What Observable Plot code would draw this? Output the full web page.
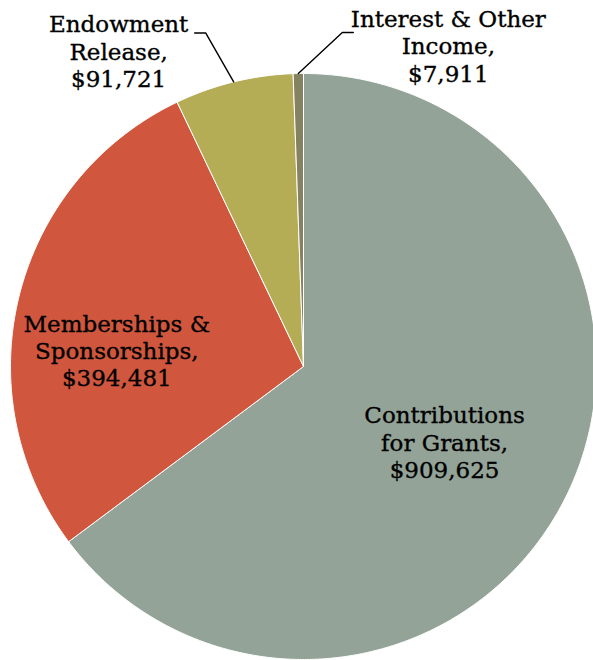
<!DOCTYPE html>
<html>
<head>
<meta charset="utf-8">
<script src="https://cdn.jsdelivr.net/npm/d3@7"></script>
<script src="https://cdn.jsdelivr.net/npm/@observablehq/plot@0.6"></script>
<style>
  html, body { margin: 0; padding: 0; background: #fff; }
  #chart svg { display: block; }
</style>
</head>
<body>
<div id="chart"></div>
<script>
// ---- data ----
const categories = ["Contributions for Grants", "Memberships & Sponsorships", "Endowment Release", "Interest & Other Income"];
const values = [909625, 394481, 91721, 7911];
const labelNames = [["Contributions", "for Grants,"], ["Memberships &", "Sponsorships,"], ["Endowment", "Release,"], ["Interest & Other", "Income,"]];
const colors = ["#93a397", "#d0573e", "#b5ad55", "#858261"];

// ---- layout ----
const W = 593, H = 660;
const R = 293, CX = 303, CY = 366;
const labelLayout = [
  {kind: "inside", r: 0.55, dx: -3, dy: 3},
  {kind: "inside", r: 0.6, dx: -16, dy: 26},
  {kind: "outside", dx: -115, dy: -31, leader: [[0, 0], [-28, -49], [-39, -49]]},
  {kind: "outside", dx: 150, dy: -28, leader: [[0, 0], [44, -41], [55, -41]]}
];

const total = d3.sum(values);
const fmt = d3.format(",");
const slices = [];
let acc = 0;
values.forEach((v, i) => {
  const a0 = acc / total * 2 * Math.PI;
  acc += v;
  const a1 = acc / total * 2 * Math.PI;
  slices.push({cat: categories[i], value: v, a0, a1, i});
});

// polygon points (unit circle, angle clockwise from 12 o'clock; y down)
const pts = [];
for (const s of slices) {
  pts.push({cat: s.cat, x: 0, y: 0});
  const n = Math.max(2, Math.ceil((s.a1 - s.a0) / (Math.PI / 360)));
  for (let k = 0; k <= n; k++) {
    const a = s.a0 + (s.a1 - s.a0) * k / n;
    pts.push({cat: s.cat, x: Math.sin(a), y: -Math.cos(a)});
  }
  pts.push({cat: s.cat, x: 0, y: 0});
}

const labels = slices.map((s, i) => {
  const L = labelLayout[i];
  const mid = (s.a0 + s.a1) / 2;
  const r = L.kind === "inside" ? L.r : 1;
  return {
    x: r * Math.sin(mid), y: -r * Math.cos(mid),
    dx: L.dx, dy: L.dy,
    text: [...labelNames[i], "$" + fmt(s.value)].join("\n")
  };
});

const leaders = [];
slices.forEach((s, i) => {
  const L = labelLayout[i];
  if (!L.leader) return;
  const mid = (s.a0 + s.a1) / 2;
  const ex = Math.sin(mid), ey = -Math.cos(mid);
  L.leader.forEach(([px, py]) => leaders.push({cat: s.cat, x: ex + px / R, y: ey + py / R}));
});

const marks = [
  Plot.line(pts, {x: "x", y: "y", z: "cat", fill: "cat", stroke: "white", strokeWidth: 1, strokeLinejoin: "round"}),
  Plot.line(leaders, {x: "x", y: "y", z: "cat", stroke: "black", strokeWidth: 1.4})
];
labels.forEach(l => {
  marks.push(Plot.text([l], {x: "x", y: "y", text: "text", dx: l.dx, dy: l.dy,
    textAnchor: "middle", lineAnchor: "middle", lineHeight: 1.19,
    fontSize: 23, fill: "black", stroke: "black", strokeWidth: 0.35}));
});

const chart = Plot.plot({
  width: W, height: H,
  margin: 0,
  style: {fontFamily: "'DejaVu Serif', serif", background: "white"},
  x: {domain: [-1, 1], range: [CX - R, CX + R], axis: null},
  y: {domain: [-1, 1], range: [CY - R, CY + R], axis: null},
  color: {domain: categories, range: colors},
  marks
});
document.getElementById("chart").appendChild(chart);
</script>
</body>
</html>
